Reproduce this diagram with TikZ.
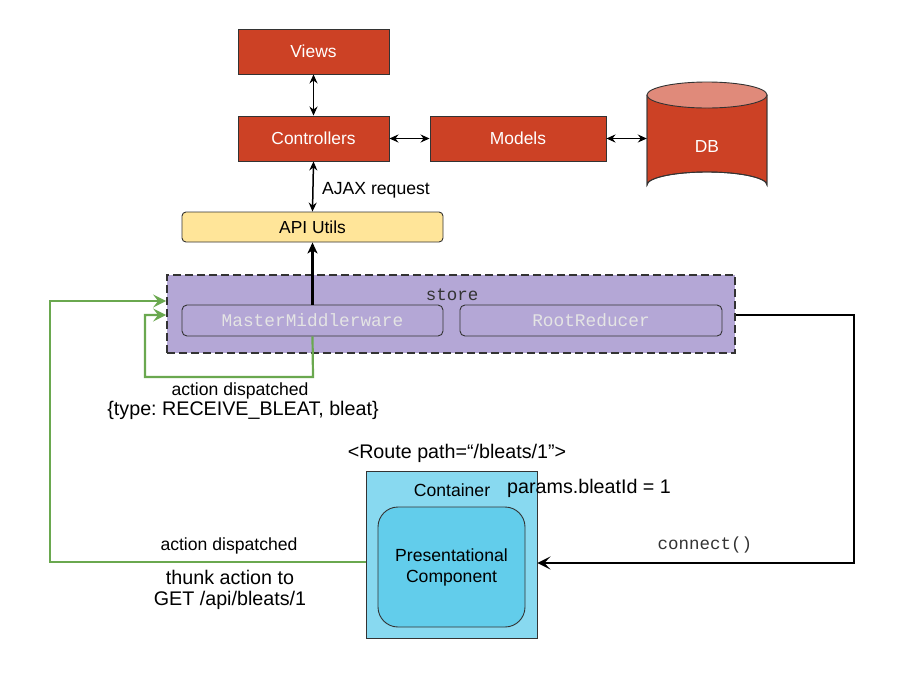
\documentclass[tikz,border=0pt]{standalone}
\usepackage{fontspec}
\setmainfont{Liberation Sans}
\setmonofont{Liberation Mono}
\usetikzlibrary{arrows.meta,calc}
\definecolor{redbox}{HTML}{CC4125}
\definecolor{redtop}{HTML}{E08A7A}
\definecolor{purplebox}{HTML}{B4A7D6}
\definecolor{yellowbox}{HTML}{FFE599}
\definecolor{cyanout}{HTML}{88D9F0}
\definecolor{cyanin}{HTML}{62CDEB}
\definecolor{greenline}{HTML}{6AA84F}
\definecolor{edgegray}{HTML}{333333}
\definecolor{monogray}{HTML}{E4E4E4}
\tikzset{
  redbox/.style={draw=edgegray, line width=0.9pt, fill=redbox, text=white, inner sep=0pt, font=\fontsize{17.4}{20}\selectfont},
  apibox/.style={draw=edgegray, line width=0.9pt, fill=yellowbox, rounded corners=4pt, inner sep=0pt, font=\fontsize{17.4}{20}\selectfont},
  innerbox/.style={draw=edgegray, line width=0.9pt, fill=purplebox, rounded corners=5pt, inner sep=0pt, text=monogray, font=\ttfamily\fontsize{17.8}{20}\selectfont},
  dbl/.style={line width=1.5pt, {Stealth[length=9pt,width=8pt,inset=3pt]}-{Stealth[length=9pt,width=8pt,inset=3pt]}},
  greenarrow/.style={draw=greenline, line width=2.2pt, -{Stealth[length=13pt,width=13pt,inset=5pt]}},
  blackarrow/.style={draw=black, line width=2.2pt, -{Stealth[length=13pt,width=13pt,inset=6pt]}},
  lbl/.style={inner sep=0pt, font=\fontsize{17.6}{20}\selectfont},
  biglbl/.style={inner sep=0pt, font=\fontsize{19.7}{22}\selectfont, align=center},
}
\begin{document}
\frenchspacing
\begin{tikzpicture}[x=1pt,y=-1pt]
\useasboundingbox[fill=white] (0,0) rectangle (897,681);

% top boxes
\node[redbox, minimum width=151, minimum height=45] (views) at (313.5,51.5) {Views};
\node[redbox, minimum width=151, minimum height=45] (ctrl) at (313.5,138.5) {Controllers};
\node[redbox, minimum width=176, minimum height=45] (models) at (518,138.5) {Models};

% DB cylinder
\fill[redbox] (647,95) -- (647,185) arc[start angle=180,end angle=360,x radius=60,y radius=13] -- (767,95) -- cycle;
\draw[edgegray, line width=0.9pt] (647,95) -- (647,185) arc[start angle=180,end angle=360,x radius=60,y radius=13] -- (767,95);
\draw[edgegray, line width=0.9pt, fill=redtop] (707,95) ellipse[x radius=60, y radius=13];
\node[inner sep=0pt, minimum width=120, minimum height=103, text=white, font=\fontsize{17.4}{20}\selectfont] (db) at (707,146.5) {DB};

\node[apibox, minimum width=261, minimum height=30] (api) at (312.5,227) {API Utils};

% store
\node[draw=edgegray, line width=1.8pt, dash pattern=on 8pt off 4pt, fill=purplebox, minimum width=568, minimum height=78, inner sep=0pt] (store) at (451,314) {};
\node[inner sep=0pt, text=edgegray, font=\ttfamily\fontsize{17.5}{20}\selectfont] (storelbl) at (452,295) {store};
\node[innerbox, minimum width=261, minimum height=31] (mm) at (312.5,320.5) {MasterMiddlerware};
\node[innerbox, minimum width=262, minimum height=31] (rr) at (591,320.5) {RootReducer};

% container
\node[draw=edgegray, line width=0.9pt, fill=cyanout, minimum width=171, minimum height=167, inner sep=0pt] (cont) at (451.5,554.5) {};
\node[lbl] (contlbl) at (452,490) {Container};
\node[draw=edgegray, line width=0.9pt, fill=cyanin, rounded corners=20pt, minimum width=147, minimum height=120, inner sep=0pt, align=center, font=\fontsize{17.6}{21}\selectfont] (pres) at (451.5,567) {Presentational\\Component};

% labels
\node[lbl, anchor=west] (ajax) at (322,190) {AJAX request};
\node[lbl] (act1) at (240,391) {action dispatched};
\node[biglbl] (type) at (243,410) {\{type: RECEIVE\_BLEAT, bleat\}};
\node[biglbl] (route) at (457,453) {<Route path=“/bleats/1”>};
\node[biglbl, anchor=west] (params) at (507,488) {params.bleatId = 1};
\node[lbl] (act2) at (229,546) {action dispatched};
\node[biglbl, font=\fontsize{19.7}{21.5}\selectfont] (thunk) at (230,590) {thunk action to\\GET /api/bleats/1};
\node[inner sep=0pt, text=edgegray, font=\ttfamily\fontsize{17.5}{20}\selectfont] (conn) at (705,545) {connect()};

% connectors
\draw[dbl] (views.south) -- (ctrl.north);
\draw[dbl] (ctrl.east) -- (models.west);
\draw[dbl] (models.east) -- (models.east -| db.west);
\draw[dbl] (ctrl.south) -- (api.north);
\draw[line width=2.2pt, -{Stealth[length=11pt,width=10pt,inset=3pt]}] (mm.north) -- (api.south);

\coordinate (g1) at (313,377);
\coordinate (g2) at (145,377);
\coordinate (g3) at (145,315);
\draw[greenarrow] (mm.south) -- (g1) -- (g2) -- (g3) -- (g3 -| store.west);

\coordinate (o1) at (50,562);
\coordinate (o2) at (50,301);
\draw[greenarrow] (cont.west |- o1) -- (o1) -- (o2) -- (o2 -| store.west);

\coordinate (b1) at (854,315);
\coordinate (b2) at (854,563);
\draw[blackarrow] (store.east |- b1) -- (b1) -- (b2) -- (b2 -| cont.east);
\end{tikzpicture}
\end{document}
